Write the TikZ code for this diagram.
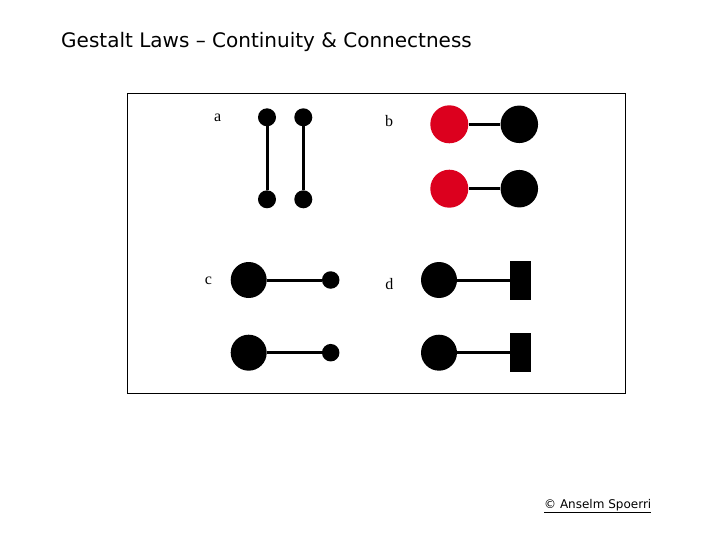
\documentclass[tikz,border=0pt]{standalone}
\usepackage{fontspec}
\setmainfont{DejaVu Sans}
\newfontfamily\seriffont{Liberation Serif}
\definecolor{dotred}{RGB}{220,0,30}
\begin{document}
\begin{tikzpicture}[x=1pt,y=-1pt,
  dot/.style={circle,fill=black,inner sep=0pt,minimum size=#1},
  rdot/.style={circle,fill=dotred,inner sep=0pt,minimum size=#1},
  bar/.style={rectangle,fill=black,inner sep=0pt,minimum width=20.5pt,minimum height=39pt},
  link/.style={line width=3pt,black},
  lbl/.style={font=\seriffont\fontsize{16}{18}\selectfont,inner sep=0pt}]
\useasboundingbox (0,0) rectangle (720,540);
\node[anchor=base west,inner sep=0pt,font=\fontsize{20}{24}\selectfont] (title) at (61,47.5) {Gestalt Laws – Continuity \& Connectness};
\node[draw=black,line width=0.8pt,minimum width=498.5pt,minimum height=300pt,inner sep=0pt] (frame) at (376.5,243.3) {};
% a
\node[lbl] (la) at (217.7,118) {a};
\node[dot=18pt] (a1) at (267,117.3) {};
\node[dot=18pt] (a2) at (267,199.3) {};
\node[dot=18pt] (a3) at (303.3,117.3) {};
\node[dot=18pt] (a4) at (303.3,199.3) {};
\draw[link] (a1) -- (a2);
\draw[link] (a3) -- (a4);
% b
\node[lbl] (lb) at (389,121.5) {b};
\node[rdot=38pt] (b1) at (449.3,124.3) {};
\node[dot=37.5pt] (b2) at (519.3,124.3) {};
\node[rdot=38pt] (b3) at (449.3,188.7) {};
\node[dot=37.5pt] (b4) at (519.3,188.7) {};
\draw[link] (b1) -- (b2);
\draw[link] (b3) -- (b4);
% c
\node[lbl] (lc) at (208.3,281) {c};
\node[dot=36pt] (c1) at (248.7,280) {};
\node[dot=17.5pt] (c2) at (330.7,280) {};
\node[dot=36pt] (c3) at (248.7,352.7) {};
\node[dot=17.5pt] (c4) at (330.7,352.7) {};
\draw[link] (c1) -- (c2);
\draw[link] (c3) -- (c4);
% d
\node[lbl] (ld) at (389.3,284) {d};
\node[dot=36pt] (d1) at (439,280) {};
\node[bar] (d2) at (520.5,280) {};
\node[dot=36pt] (d3) at (439,352.7) {};
\node[bar] (d4) at (520.5,352.7) {};
\draw[link] (d1) -- (d2);
\draw[link] (d3) -- (d4);
% copyright
\node[anchor=base west,inner sep=0pt,font=\fontsize{12}{14}\selectfont] (copy) at (544,508.5) {\underline{© Anselm Spoerri}};
\end{tikzpicture}
\end{document}
